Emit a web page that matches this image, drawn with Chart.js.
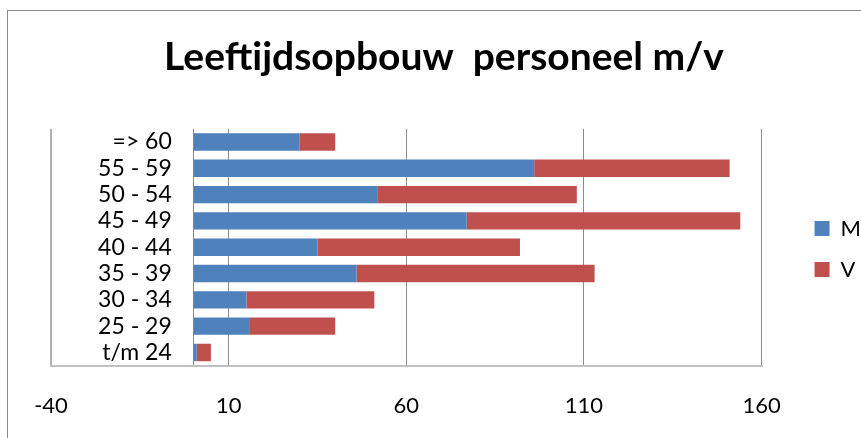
<!DOCTYPE html>
<html>
<head>
<meta charset="utf-8">
<script src="https://cdn.jsdelivr.net/npm/chart.js@4.4.0/dist/chart.umd.min.js"></script>
<style>
  body { margin: 0; background: #fff; overflow: hidden; }
  #frame { position: absolute; left: 7px; top: 10px; width: 900px; height: 500px; border: 1px solid #8a8a8a; }
  #wrap { position: absolute; left: 0; top: 8px; width: 861px; height: 438px; }
</style>
</head>
<body>
<div id="frame"></div>
<div id="wrap"><canvas id="myChart"></canvas></div>
<script>
    // leeftijdsgroepen, van boven naar beneden
    const categories = ['=> 60', '55 - 59', '50 - 54', '45 - 49', '40 - 44', '35 - 39', '30 - 34', '25 - 29', 't/m 24'];
    const mannen = [30, 96, 52, 77, 35, 46, 15, 16, 1];
    const vrouwen = [10, 55, 56, 77, 57, 67, 36, 24, 4];
    const xTicks = [-40, 10, 60, 110, 160];

    const fontFam = 'Lato, "Open Sans", sans-serif';

    // legenda naar rechts/omlaag schuiven
    const legendShift = {
        id: 'legendShift',
        afterLayout(chart) {
            chart.legend.left += 34;
            chart.legend.right += 34;
            chart.legend.top += 22;
            chart.legend.bottom += 22;
        }
    };

    const data = {
        labels: categories,
        datasets: [{
            label: 'M',
            data: mannen,
            backgroundColor: '#4F81BD',
            categoryPercentage: 1,
            barPercentage: 0.66
        }, {
            label: 'V',
            data: vrouwen,
            backgroundColor: '#C0504D',
            categoryPercentage: 1,
            barPercentage: 0.66
        }]
    };

    const config = {
        type: 'bar',
        data: data,
        options: {
            indexAxis: 'y',
            responsive: true,
            maintainAspectRatio: false,
            animation: false,
            layout: { padding: { left: 51, right: 24, top: 0, bottom: 0 } },
            scales: {
                x: {
                    stacked: true,
                    min: -40,
                    max: 160,
                    // grid op de labels plus een lijn op 0
                    afterBuildTicks: (scale) => { scale.ticks = [...xTicks, 0].sort((a, b) => a - b).map(v => ({ value: v })); },
                    grid: {
                        color: (ctx) => ctx.tick && ctx.tick.value === -40 ? '#b0b0b0' : '#8c8c8c',
                        lineWidth: (ctx) => ctx.tick && ctx.tick.value === -40 ? 2 : 1,
                        drawTicks: false
                    },
                    border: { display: true, color: '#c0c0c0', width: 2 },
                    ticks: {
                        color: '#000', padding: 27, maxRotation: 0,
                        font: { family: fontFam, size: 22 },
                        callback: (v) => xTicks.includes(v) ? v : ''
                    }
                },
                y: {
                    stacked: true,
                    position: { x: -6 },
                    afterFit: (scale) => { scale.width = 0; },
                    grid: { display: false, drawTicks: false },
                    border: { display: false },
                    ticks: { color: '#000', padding: 0, autoSkip: false, font: { family: fontFam, size: 23 } }
                }
            },
            plugins: {
                title: {
                    display: true,
                    text: 'Leeftijdsopbouw  personeel m/v',
                    color: '#000',
                    font: { family: fontFam, size: 39, weight: 'bold' },
                    padding: { top: 26, bottom: 48 }
                },
                legend: {
                    position: 'right',
                    labels: {
                        color: '#000',
                        boxWidth: 15,
                        boxHeight: 15,
                        padding: 19,
                        font: { family: fontFam, size: 22 }
                    }
                },
                tooltip: { enabled: false }
            }
        },
        plugins: [legendShift]
    };

    const myChart = new Chart(
        document.getElementById('myChart'),
        config
    );
</script>
</body>
</html>
